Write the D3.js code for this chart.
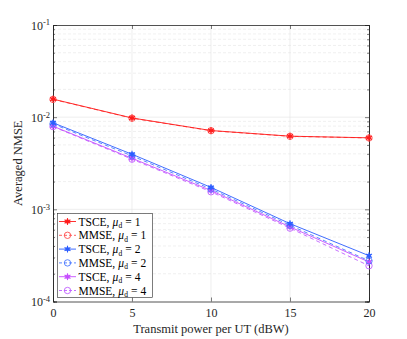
<!DOCTYPE html>
<html>
<head>
<meta charset="utf-8">
<script src="https://cdn.jsdelivr.net/npm/d3@7"></script>
<style>
body { margin: 0; background: #fff; }
svg text { font-family: "Liberation Serif", "Times New Roman", serif; }
.grid line { stroke: #e3e3e3; stroke-width: 0.6; }
.minor line { stroke: #e6e6e6; stroke-width: 0.6; stroke-dasharray: 3,2; }
</style>
</head>
<body>
<script>
// data
const xValues = [0, 5, 10, 15, 20];
const tsce1 = [0.0157, 0.0098, 0.00716, 0.00622, 0.00597];
const mmse1 = [0.0156, 0.00975, 0.00713, 0.00620, 0.00595];
const tsce2 = [0.00869, 0.00396, 0.00173, 0.000699, 0.000314];
const mmse2 = [0.00845, 0.00380, 0.00166, 0.000672, 0.000276];
const tsce4 = [0.00798, 0.00358, 0.00160, 0.000645, 0.000268];
const mmse4 = [0.00790, 0.00350, 0.00155, 0.000625, 0.000244];
const xTicks = [0, 5, 10, 15, 20];
const yTicks = [1e-4, 1e-3, 1e-2, 1e-1];
const labels = ['TSCE', 'MMSE', 'TSCE', 'MMSE', 'TSCE', 'MMSE'];
const muValues = [1, 1, 2, 2, 4, 4];

const series = [
    {name: labels[0], mu: muValues[0], values: tsce1, color: '#ff1a1a', dash: null, marker: 'star'},
    {name: labels[1], mu: muValues[1], values: mmse1, color: '#ff4d4d', dash: '4,3', marker: 'circle'},
    {name: labels[2], mu: muValues[2], values: tsce2, color: '#2a5cff', dash: null, marker: 'star'},
    {name: labels[3], mu: muValues[3], values: mmse2, color: '#4a78ff', dash: '4,3', marker: 'circle'},
    {name: labels[4], mu: muValues[4], values: tsce4, color: '#c64dff', dash: null, marker: 'star'},
    {name: labels[5], mu: muValues[5], values: mmse4, color: '#c060ff', dash: '4,3', marker: 'circle'}
];

const W = 407, H = 339;
const mLeft = 53, mRight = 369, mTop = 25, mBottom = 301.5;
const FONT = 'Liberation Serif';

const svg = d3.select(document.body)
    .append('svg')
    .attr('width', W)
    .attr('height', H);

const x = d3.scaleLinear().domain([0, 20]).range([mLeft, mRight]);
const y = d3.scaleLog().domain([1e-4, 1e-1]).range([mBottom, mTop]);

// minor grid
const minorVals = [];
for (let e = -4; e < -1; e++) {
    for (let k = 2; k <= 9; k++) minorVals.push(k * Math.pow(10, e));
}
svg.append('g').attr('class', 'minor')
    .selectAll('line')
    .data(minorVals)
    .enter().append('line')
    .attr('x1', mLeft).attr('x2', mRight)
    .attr('y1', d => y(d)).attr('y2', d => y(d));

// major grid
const grid = svg.append('g').attr('class', 'grid');
grid.selectAll('.gy')
    .data(yTicks.slice(1, -1))
    .enter().append('line')
    .attr('x1', mLeft).attr('x2', mRight)
    .attr('y1', d => y(d)).attr('y2', d => y(d));
grid.selectAll('.gx')
    .data(xTicks.slice(1, -1))
    .enter().append('line')
    .attr('x1', d => x(d)).attr('x2', d => x(d))
    .attr('y1', mTop).attr('y2', mBottom);

// axes
const xAxis = d3.axisBottom(x).tickValues(xTicks).tickSize(-4).tickPadding(7).tickFormat(d3.format('d'));
const gx = svg.append('g')
    .attr('transform', `translate(0,${mBottom})`)
    .call(xAxis);
svg.append('g')
    .attr('transform', `translate(0,${mTop})`)
    .call(d3.axisTop(x).tickValues(xTicks).tickSize(-4).tickFormat(''));

const yAxis = d3.axisLeft(y).tickValues(yTicks).tickSize(-4).tickPadding(6).tickFormat('');
const gy = svg.append('g')
    .attr('transform', `translate(${mLeft},0)`)
    .call(yAxis);
svg.append('g')
    .attr('transform', `translate(${mRight},0)`)
    .call(d3.axisRight(y).tickValues(yTicks).tickSize(-4).tickFormat(''));
// minor ticks on y
svg.append('g')
    .attr('transform', `translate(${mLeft},0)`)
    .call(d3.axisLeft(y).tickValues(minorVals).tickSize(-2).tickFormat(''));
svg.append('g')
    .attr('transform', `translate(${mRight},0)`)
    .call(d3.axisRight(y).tickValues(minorVals).tickSize(-2).tickFormat(''));

svg.selectAll('.domain').attr('stroke', '#262626').attr('stroke-width', 0.8);
svg.selectAll('.tick line').attr('stroke', '#262626').attr('stroke-width', 0.6);
gx.attr('font-family', FONT);
gx.selectAll('text').attr('font-size', 12).attr('fill', '#262626').attr('font-family', FONT);

// y tick labels as 10^e
gy.attr('font-family', FONT);
gy.selectAll('.tick').each(function(d) {
    const t = d3.select(this).append('text')
        .attr('x', -3).attr('dy', '0.35em')
        .attr('text-anchor', 'end')
        .attr('fill', '#262626')
        .attr('font-family', FONT)
        .attr('font-size', 12);
    t.append('tspan').text('10');
    t.append('tspan').attr('dy', '-0.5em').attr('font-size', 8.5).text(String(Math.round(Math.log10(d))));
});

// labels
svg.append('text')
    .attr('x', (mLeft + mRight) / 2).attr('y', 332.5)
    .attr('text-anchor', 'middle')
    .attr('font-family', FONT)
    .attr('font-size', 12.5)
    .attr('fill', '#262626')
    .text('Transmit power per UT (dBW)');
svg.append('text')
    .attr('transform', `translate(22,${(mTop + mBottom) / 2}) rotate(-90)`)
    .attr('text-anchor', 'middle')
    .attr('font-family', FONT)
    .attr('font-size', 12.5)
    .attr('fill', '#262626')
    .text('Averaged NMSE');

// lines
const line = d3.line()
    .x((d, i) => x(xValues[i]))
    .y(d => y(d));

function drawMarker(g, s, cx, cy) {
    if (s.marker === 'circle') {
        g.append('circle')
            .attr('cx', cx).attr('cy', cy).attr('r', 3.2)
            .attr('fill', 'none').attr('stroke', s.color).attr('stroke-width', 0.9);
    } else {
        const r = 3.4;
        [0, 60, 120].forEach(a => {
            const rad = a * Math.PI / 180;
            g.append('line')
                .attr('x1', cx - r * Math.sin(rad)).attr('y1', cy - r * Math.cos(rad))
                .attr('x2', cx + r * Math.sin(rad)).attr('y2', cy + r * Math.cos(rad))
                .attr('stroke', s.color).attr('stroke-width', 1.1);
        });
        g.append('circle').attr('cx', cx).attr('cy', cy).attr('r', 2.2)
            .attr('fill', s.color).attr('opacity', 0.8);
    }
}

const plot = svg.append('g');
series.slice().reverse().forEach(s => {
    const g = plot.append('g');
    g.append('path')
        .attr('d', line(s.values))
        .attr('fill', 'none')
        .attr('stroke', s.color)
        .attr('stroke-width', 0.9)
        .attr('stroke-dasharray', s.dash);
    s.values.forEach((v, i) => drawMarker(g, s, x(xValues[i]), y(v)));
});

// legend
const lg = svg.append('g');
lg.append('rect')
    .attr('x', 57.5).attr('y', 213.5)
    .attr('width', 95).attr('height', 84)
    .attr('fill', '#fff').attr('stroke', '#262626').attr('stroke-width', 0.6);

function putText(g, str, px, py, size, style) {
    const t = g.append('text')
        .attr('x', px).attr('y', py)
        .attr('font-family', FONT)
        .attr('font-size', size)
        .attr('font-style', style || null)
        .attr('fill', '#000')
        .text(str);
    return px + t.node().getComputedTextLength();
}

series.forEach((s, i) => {
    const yy = 221.5 + i * 13.8;
    const g = lg.append('g');
    g.append('line')
        .attr('x1', 59).attr('x2', 76).attr('y1', yy).attr('y2', yy)
        .attr('stroke', s.color).attr('stroke-width', 0.9)
        .attr('stroke-dasharray', s.dash ? '3,2' : null);
    drawMarker(g, s, 67.5, yy);
    const base = yy + 4;
    let px = putText(g, s.name + ',', 78.5, base, 11.5);
    px = putText(g, '\u03BC', px + 3, base, 11.5, 'italic');
    px = putText(g, 'd', px + 0.3, base + 2.5, 7.5);
    px = putText(g, '=', px + 3, base, 11.5);
    putText(g, String(s.mu), px + 3, base, 11.5);
});
</script>
</body>
</html>
